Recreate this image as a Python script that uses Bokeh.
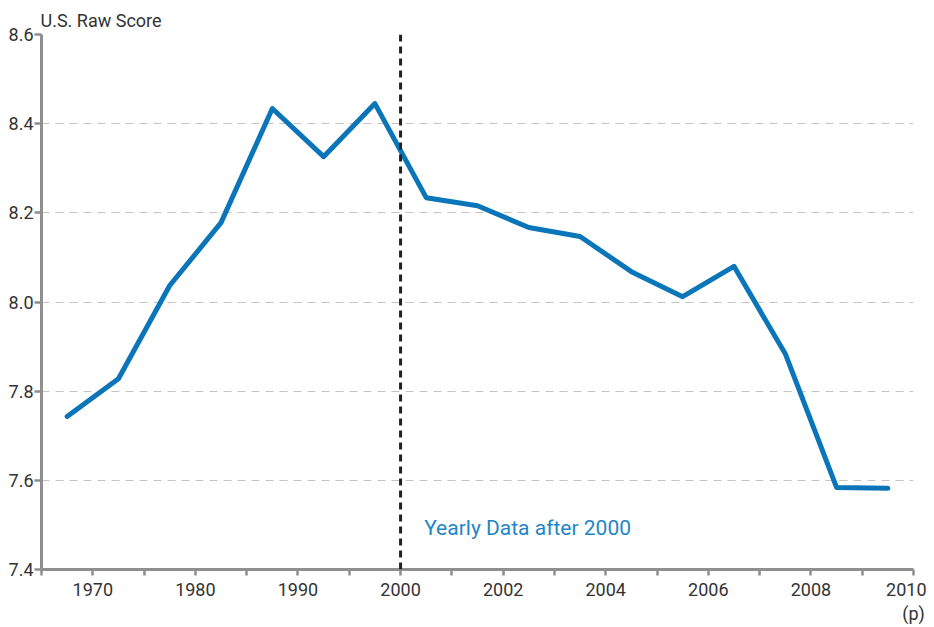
import numpy as np
from bokeh.plotting import figure
from bokeh.models import Range1d, FixedTicker, Label, Span, LinearAxis
from bokeh.embed import file_html
from bokeh.resources import INLINE

# Periods: five-year periods up to 2000, then yearly data (2010 preliminary)
periods = ["1965-70", "1970-75", "1975-80", "1980-85", "1985-90", "1990-95", "1995-00",
           "2000-01", "2001-02", "2002-03", "2003-04", "2004-05", "2005-06", "2006-07",
           "2007-08", "2008-09", "2009-10"]
raw_score = [7.743, 7.828, 8.037, 8.178, 8.434, 8.326, 8.445,
             8.234, 8.216, 8.167, 8.147, 8.068, 8.012, 8.080,
             7.884, 7.584, 7.582]
tick_labels = ["", "1970", "", "1980", "", "1990", "", "2000", "", "2002", "",
               "2004", "", "2006", "", "2008", "", "2010"]
prelim_note = "(p)"
y_ticks = [7.4, 7.6, 7.8, 8.0, 8.2, 8.4, 8.6]
divider_index = 7  # position of 2000
note_text = "Yearly Data after 2000"

FONT = "Roboto"
TXT = "#333333"
AXC = "#8f8f8f"
BLUE = "#0a75b8"

x = np.arange(len(periods)) + 0.5

p = figure(frame_width=872, frame_height=535, output_backend="svg", toolbar_location=None,
           x_range=Range1d(0, len(tick_labels) - 1), y_range=Range1d(7.4, 8.6),
           min_border_left=41, min_border_right=13, min_border_top=34, min_border_bottom=56,
           title="U.S. Raw Score")
p.outline_line_color = None
p.background_fill_color = "white"
p.border_fill_color = "white"

p.title.text_font = FONT
p.title.text_font_size = "18px"
p.title.text_font_style = "normal"
p.title.text_color = TXT
p.title.align = "left"
p.title.offset = -1
p.title.standoff = 8

p.xgrid.visible = False
p.ygrid.ticker = FixedTicker(ticks=y_ticks)
p.ygrid.grid_line_color = "#c4c4c4"
p.ygrid.grid_line_dash = "8 6"
p.ygrid.grid_line_width = 1.2

p.yaxis.ticker = FixedTicker(ticks=y_ticks)
p.yaxis.major_label_overrides = {t: f"{t:.1f}" for t in y_ticks}
p.xaxis.ticker = FixedTicker(ticks=list(range(len(tick_labels))))
p.xaxis.major_label_overrides = {i: s for i, s in enumerate(tick_labels)}

for ax in (p.xaxis[0], p.yaxis[0]):
    ax.axis_line_color = AXC
    ax.axis_line_width = 3
    ax.major_tick_line_color = AXC
    ax.major_tick_line_width = 2.5
    ax.major_tick_in = 0
    ax.minor_tick_line_color = None
    ax.major_label_text_font = FONT
    ax.major_label_text_font_size = "18px"
    ax.major_label_text_color = TXT
p.yaxis.major_tick_out = 7
p.yaxis.major_label_standoff = 1
p.xaxis.major_tick_out = 6
p.xaxis.major_label_standoff = 7

# second row of x labels: the "(p)" preliminary marker under 2010
last = len(tick_labels) - 1
ax2 = LinearAxis(ticker=FixedTicker(ticks=[last]), major_label_overrides={last: prelim_note},
                 axis_line_color=None, major_tick_line_color=None, minor_tick_line_color=None,
                 major_tick_in=0, major_tick_out=0, major_label_standoff=4,
                 major_label_text_font=FONT, major_label_text_font_size="18px",
                 major_label_text_color=TXT)
p.add_layout(ax2, "below")

p.add_layout(Span(location=divider_index, dimension="height", line_color="#222222",
                  line_width=3, line_dash="7 5"))

p.line(x, raw_score, line_color=BLUE, line_width=5, line_join="round", line_cap="round")

p.add_layout(Label(x=divider_index + 0.46, y=7.492, text=note_text, text_font=FONT,
                   text_font_size="21px", text_color="#1f86c6", text_baseline="middle"))

open("out.html", "w").write(file_html(p, INLINE))
